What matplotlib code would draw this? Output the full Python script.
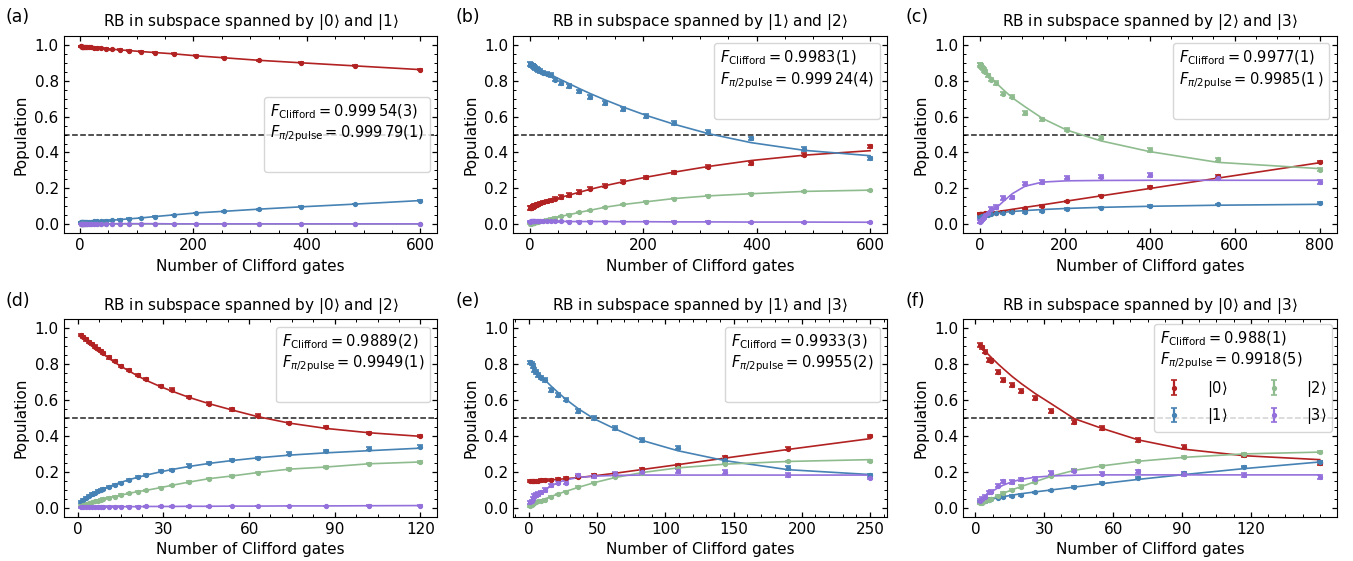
import matplotlib.pyplot as plt
from matplotlib.lines import Line2D
from matplotlib.ticker import AutoMinorLocator

# colours for |0>, |1>, |2>, |3>
colors = ['#b22222', '#4682b4', '#8fbc8f', '#9370db']
states = [r'$|0\rangle$', r'$|1\rangle$', r'$|2\rangle$', r'$|3\rangle$']

# ---------------- panel (a): |0> and |1>
x_a = [1, 2, 3, 4, 5, 6, 7, 8, 10, 12, 15, 19, 24, 30, 37, 45, 56, 70, 87, 107, 133, 165, 205, 254, 315, 390, 484, 600]
red_a = [0.991, 0.991, 0.990, 0.990, 0.990, 0.989, 0.989, 0.989, 0.988, 0.988, 0.987, 0.986, 0.985, 0.983,
         0.981, 0.979, 0.976, 0.972, 0.968, 0.963, 0.957, 0.950, 0.939, 0.928, 0.914, 0.900, 0.883, 0.862]
blue_a = [0.010, 0.010, 0.011, 0.011, 0.011, 0.012, 0.012, 0.012, 0.013, 0.013, 0.014, 0.015, 0.016, 0.017,
          0.018, 0.020, 0.022, 0.026, 0.030, 0.035, 0.043, 0.052, 0.063, 0.072, 0.084, 0.097, 0.112, 0.132]
green_a = [0.001, 0.001, 0.001, 0.001, 0.001, 0.001, 0.001, 0.001, 0.001, 0.001, 0.001, 0.001, 0.001, 0.001,
           0.001, 0.001, 0.001, 0.001, 0.001, 0.001, 0.001, 0.001, 0.001, 0.001, 0.001, 0.001, 0.001, 0.001]
purple_a = [0.003, 0.003, 0.003, 0.003, 0.003, 0.003, 0.003, 0.003, 0.003, 0.003, 0.003, 0.003, 0.003, 0.003,
            0.003, 0.003, 0.003, 0.003, 0.003, 0.003, 0.003, 0.002, 0.002, 0.002, 0.002, 0.002, 0.002, 0.002]
err_a = [0.003, 0.002, 0.001, 0.001]

# ---------------- panel (b): |1> and |2>
x_b = x_a
red_b = [0.090, 0.091, 0.093, 0.094, 0.096, 0.098, 0.100, 0.102, 0.105, 0.108, 0.112, 0.117, 0.122, 0.127,
         0.133, 0.142, 0.152, 0.163, 0.180, 0.198, 0.215, 0.238, 0.262, 0.290, 0.320, 0.340, 0.388, 0.435]
red_b_fit = [0.090, 0.091, 0.092, 0.094, 0.095, 0.097, 0.099, 0.101, 0.104, 0.107, 0.111, 0.116, 0.121, 0.127,
             0.134, 0.141, 0.151, 0.163, 0.178, 0.195, 0.215, 0.237, 0.262, 0.290, 0.322, 0.355, 0.385, 0.410]
blue_b = [0.892, 0.890, 0.888, 0.886, 0.884, 0.882, 0.880, 0.877, 0.872, 0.866, 0.860, 0.853, 0.845, 0.840,
          0.832, 0.806, 0.787, 0.772, 0.741, 0.709, 0.677, 0.642, 0.603, 0.563, 0.513, 0.478, 0.420, 0.367]
blue_b_fit = [0.892, 0.891, 0.889, 0.888, 0.886, 0.885, 0.883, 0.881, 0.877, 0.873, 0.868, 0.861, 0.853, 0.844,
              0.833, 0.821, 0.804, 0.783, 0.757, 0.728, 0.693, 0.653, 0.607, 0.558, 0.505, 0.455, 0.412, 0.382]
green_b = [0.004, 0.004, 0.005, 0.006, 0.007, 0.008, 0.008, 0.009, 0.010, 0.011, 0.013, 0.016, 0.020, 0.025,
           0.030, 0.037, 0.045, 0.053, 0.066, 0.078, 0.095, 0.110, 0.125, 0.143, 0.158, 0.170, 0.183, 0.190]
purple_b = [0.015, 0.016, 0.016, 0.016, 0.016, 0.016, 0.016, 0.016, 0.016, 0.016, 0.016, 0.016, 0.016, 0.016,
            0.016, 0.016, 0.016, 0.015, 0.015, 0.015, 0.015, 0.014, 0.014, 0.013, 0.013, 0.012, 0.012, 0.011]
err_b = [0.009, 0.010, 0.003, 0.003]

# ---------------- panel (c): |2> and |3>
x_c = [1, 2, 3, 4, 5, 7, 10, 14, 20, 28, 39, 55, 77, 107, 148, 205, 285, 400, 560, 800]
red_c = [0.058, 0.058, 0.058, 0.058, 0.058, 0.059, 0.059, 0.060, 0.061, 0.062, 0.063, 0.067, 0.075, 0.088,
         0.103, 0.127, 0.160, 0.207, 0.270, 0.345]
red_c_fit = [0.055, 0.055, 0.056, 0.056, 0.057, 0.057, 0.059, 0.060, 0.062, 0.065, 0.069, 0.075, 0.083, 0.094,
             0.108, 0.129, 0.158, 0.199, 0.257, 0.343]
blue_c = [0.040, 0.041, 0.042, 0.043, 0.044, 0.046, 0.048, 0.050, 0.053, 0.057, 0.060, 0.063, 0.068, 0.070,
          0.075, 0.085, 0.093, 0.100, 0.110, 0.117]
blue_c_fit = [0.040, 0.041, 0.042, 0.043, 0.044, 0.046, 0.048, 0.051, 0.054, 0.058, 0.062, 0.066, 0.071, 0.076,
              0.082, 0.088, 0.094, 0.100, 0.106, 0.111]
green_c = [0.890, 0.888, 0.885, 0.880, 0.875, 0.870, 0.860, 0.850, 0.830, 0.806, 0.787, 0.727, 0.712, 0.620,
           0.586, 0.526, 0.483, 0.414, 0.362, 0.305]
green_c_fit = [0.890, 0.887, 0.884, 0.881, 0.878, 0.872, 0.864, 0.853, 0.837, 0.816, 0.788, 0.752, 0.705, 0.655,
               0.590, 0.525, 0.465, 0.405, 0.345, 0.310]
purple_c = [0.015, 0.017, 0.020, 0.025, 0.030, 0.035, 0.040, 0.050, 0.060, 0.085, 0.095, 0.145, 0.150, 0.227,
            0.235, 0.260, 0.265, 0.275, 0.260, 0.235]
purple_c_fit = [0.015, 0.016, 0.018, 0.020, 0.022, 0.026, 0.032, 0.040, 0.052, 0.068, 0.090, 0.125, 0.170, 0.212,
                0.235, 0.242, 0.244, 0.245, 0.245, 0.245]
err_c = [0.005, 0.005, 0.009, 0.010]

# ---------------- panel (d): |0> and |2>
x_d = [1, 2, 3, 4, 5, 6, 7, 8, 9, 11, 13, 15, 18, 21, 24, 29, 33, 39, 46, 54, 63, 74, 87, 102, 120]
red_d = [0.963, 0.953, 0.939, 0.925, 0.912, 0.898, 0.886, 0.875, 0.864, 0.838, 0.818, 0.791, 0.767, 0.739,
         0.719, 0.678, 0.659, 0.618, 0.581, 0.549, 0.514, 0.473, 0.451, 0.417, 0.400]
red_d_fit = [0.962, 0.947, 0.933, 0.919, 0.906, 0.893, 0.880, 0.868, 0.856, 0.832, 0.810, 0.790, 0.762, 0.735,
             0.710, 0.675, 0.650, 0.615, 0.580, 0.545, 0.508, 0.472, 0.442, 0.418, 0.398]
blue_d = [0.032, 0.045, 0.056, 0.065, 0.074, 0.084, 0.091, 0.097, 0.102, 0.114, 0.125, 0.140, 0.153, 0.169,
          0.182, 0.205, 0.212, 0.235, 0.249, 0.268, 0.279, 0.302, 0.315, 0.330, 0.341]
blue_d_fit = [0.030, 0.042, 0.053, 0.063, 0.073, 0.082, 0.090, 0.098, 0.105, 0.118, 0.130, 0.141, 0.156, 0.170,
              0.182, 0.200, 0.213, 0.230, 0.247, 0.263, 0.278, 0.293, 0.306, 0.318, 0.332]
green_d = [0.010, 0.015, 0.020, 0.025, 0.030, 0.035, 0.040, 0.045, 0.050, 0.055, 0.062, 0.070, 0.080, 0.090,
           0.097, 0.112, 0.125, 0.143, 0.162, 0.177, 0.196, 0.215, 0.227, 0.245, 0.255]
purple_d = [0.003, 0.003, 0.003, 0.004, 0.004, 0.004, 0.004, 0.005, 0.005, 0.005, 0.005, 0.006, 0.006, 0.006,
            0.007, 0.007, 0.007, 0.008, 0.008, 0.009, 0.009, 0.010, 0.010, 0.011, 0.012]
err_d = [0.007, 0.006, 0.004, 0.002]

# ---------------- panel (e): |1> and |3>
x_e = [1, 2, 3, 4, 5, 7, 9, 12, 16, 21, 27, 36, 48, 63, 83, 109, 144, 190, 250]
red_e = [0.148, 0.148, 0.149, 0.149, 0.150, 0.151, 0.152, 0.153, 0.155, 0.158, 0.165, 0.170, 0.180, 0.190,
         0.215, 0.240, 0.280, 0.330, 0.398]
red_e_fit = [0.147, 0.147, 0.148, 0.148, 0.149, 0.150, 0.151, 0.152, 0.155, 0.158, 0.162, 0.168, 0.178, 0.192,
             0.213, 0.240, 0.277, 0.325, 0.385]
blue_e = [0.810, 0.804, 0.790, 0.767, 0.758, 0.739, 0.726, 0.711, 0.655, 0.628, 0.603, 0.538, 0.501, 0.445,
          0.376, 0.335, 0.264, 0.223, 0.180]
blue_e_fit = [0.810, 0.800, 0.790, 0.780, 0.770, 0.752, 0.735, 0.710, 0.680, 0.645, 0.605, 0.553, 0.495, 0.440,
              0.375, 0.318, 0.262, 0.212, 0.185]
green_e = [0.010, 0.015, 0.020, 0.025, 0.030, 0.035, 0.040, 0.045, 0.060, 0.075, 0.090, 0.115, 0.140, 0.170,
           0.195, 0.220, 0.245, 0.258, 0.260]
green_e_fit = [0.010, 0.014, 0.019, 0.024, 0.028, 0.035, 0.041, 0.050, 0.062, 0.076, 0.091, 0.113, 0.140, 0.168,
               0.196, 0.222, 0.243, 0.258, 0.268]
purple_e = [0.030, 0.035, 0.050, 0.065, 0.070, 0.075, 0.085, 0.100, 0.125, 0.140, 0.140, 0.180, 0.175, 0.190,
            0.200, 0.205, 0.200, 0.183, 0.168]
purple_e_fit = [0.025, 0.035, 0.045, 0.053, 0.060, 0.073, 0.085, 0.100, 0.120, 0.140, 0.155, 0.168, 0.176, 0.180,
                0.182, 0.182, 0.182, 0.182, 0.182]
err_e = [0.006, 0.010, 0.004, 0.010]

# ---------------- panel (f): |0> and |3>
x_f = [2, 3, 4, 6, 7, 10, 12, 16, 20, 26, 33, 43, 55, 71, 91, 117, 150]
red_f = [0.907, 0.894, 0.870, 0.823, 0.820, 0.758, 0.711, 0.683, 0.652, 0.613, 0.540, 0.479, 0.445, 0.376,
         0.339, 0.292, 0.250]
red_f_fit = [0.905, 0.890, 0.876, 0.850, 0.837, 0.800, 0.777, 0.732, 0.692, 0.637, 0.580, 0.497, 0.443, 0.378,
             0.326, 0.290, 0.268]
blue_f = [0.032, 0.036, 0.040, 0.045, 0.048, 0.056, 0.060, 0.065, 0.072, 0.086, 0.097, 0.115, 0.138, 0.166,
          0.194, 0.229, 0.255]
blue_f_fit = [0.030, 0.034, 0.038, 0.045, 0.048, 0.056, 0.061, 0.070, 0.078, 0.088, 0.099, 0.115, 0.134, 0.158,
              0.185, 0.218, 0.255]
green_f = [0.025, 0.028, 0.035, 0.045, 0.050, 0.065, 0.080, 0.100, 0.118, 0.145, 0.175, 0.208, 0.233, 0.259,
           0.281, 0.300, 0.310]
purple_f = [0.040, 0.050, 0.060, 0.085, 0.090, 0.123, 0.147, 0.145, 0.158, 0.162, 0.194, 0.207, 0.190, 0.203,
            0.187, 0.182, 0.172]
purple_f_fit = [0.035, 0.048, 0.060, 0.080, 0.089, 0.112, 0.125, 0.145, 0.158, 0.170, 0.177, 0.181, 0.183, 0.183,
                0.183, 0.183, 0.183]
err_f = [0.010, 0.004, 0.006, 0.010]

# panel titles / fidelities
labels = ['(a)', '(b)', '(c)', '(d)', '(e)', '(f)']
pairs = [('0', '1'), ('1', '2'), ('2', '3'), ('0', '2'), ('1', '3'), ('0', '3')]
f_cliff = [r'0.999\,54(3)', '0.9983(1)', '0.9977(1)', '0.9889(2)', '0.9933(3)', '0.988(1)']
f_pulse = [r'0.999\,79(1)', r'0.999\,24(4)', r'0.9985(1\,)', '0.9949(1)', '0.9955(2)', '0.9918(5)']
xticks = [[0, 200, 400, 600], [0, 200, 400, 600], [0, 200, 400, 600, 800],
          [0, 30, 60, 90, 120], [0, 50, 100, 150, 200, 250], [0, 30, 60, 90, 120]]

panels = [
    (x_a, [red_a, blue_a, green_a, purple_a], [red_a, blue_a, green_a, purple_a], err_a),
    (x_b, [red_b, blue_b, green_b, purple_b], [red_b_fit, blue_b_fit, green_b, purple_b], err_b),
    (x_c, [red_c, blue_c, green_c, purple_c], [red_c_fit, blue_c_fit, green_c_fit, purple_c_fit], err_c),
    (x_d, [red_d, blue_d, green_d, purple_d], [red_d_fit, blue_d_fit, green_d, purple_d], err_d),
    (x_e, [red_e, blue_e, green_e, purple_e], [red_e_fit, blue_e_fit, green_e_fit, purple_e_fit], err_e),
    (x_f, [red_f, blue_f, green_f, purple_f], [red_f_fit, blue_f_fit, green_f, purple_f_fit], err_f),
]

plt.rcParams['font.size'] = 11
plt.rcParams['mathtext.fontset'] = 'dejavusans'

fig, axes = plt.subplots(2, 3, figsize=(13.53, 5.61), dpi=100)
fig.subplots_adjust(left=0.047, right=0.988, bottom=0.079, top=0.936, wspace=0.203, hspace=0.437)

for i, ax in enumerate(axes.flat):
    x, ys, fits, errs = panels[i]
    handles = []
    for k in range(4):
        ax.plot(x, fits[k], color=colors[k], lw=1.2, zorder=2)
        h = ax.errorbar(x, ys[k], yerr=errs[k], fmt='o', ms=2.8, color=colors[k],
                        elinewidth=1.6, capsize=2, capthick=1.2, zorder=3)
        handles.append(h)
    ax.axhline(0.5, color='#222222', ls='--', lw=1.1, zorder=1)

    ax.set_ylim(-0.05, 1.05)
    ax.set_yticks([0.0, 0.2, 0.4, 0.6, 0.8, 1.0])
    ax.set_xticks(xticks[i])
    ax.xaxis.set_minor_locator(AutoMinorLocator())
    ax.yaxis.set_minor_locator(AutoMinorLocator())
    ax.tick_params(which='both', direction='in', top=True, right=True, labelsize=11)
    ax.tick_params(which='major', length=3.5, width=0.9)
    ax.tick_params(which='minor', length=2.2, width=0.7)

    ax.set_xlabel('Number of Clifford gates', fontsize=11)
    ax.set_ylabel('Population', fontsize=11)
    a, b = pairs[i]
    ax.set_title(r'RB in subspace spanned by $|%s\rangle$ and $|%s\rangle$' % (a, b), fontsize=11, pad=7)
    ax.text(-0.155, 1.095, labels[i], transform=ax.transAxes, fontsize=12.5, va='center', ha='left')

    title = r'$F_{\mathrm{Clifford}} = %s$' % f_cliff[i] + '\n' + r'$F_{\pi/2\mathrm{pulse}} = %s$' % f_pulse[i]
    if i == 5:
        leg = ax.legend(handles, states, ncol=2, title=title, loc='upper right',
                        fontsize=10.5, title_fontsize=10.5, alignment='left',
                        columnspacing=2.2, handletextpad=1.2, borderaxespad=0.3)
    else:
        blank = [Line2D([], [], color='none')]
        leg = ax.legend(blank, [''], title=title, loc='center right' if i == 0 else 'upper right',
                        fontsize=10.5, title_fontsize=10.5, alignment='left')
    leg.get_frame().set_edgecolor('#cccccc')
    leg.get_frame().set_alpha(0.8)

fig.savefig('out.png', dpi=100)
